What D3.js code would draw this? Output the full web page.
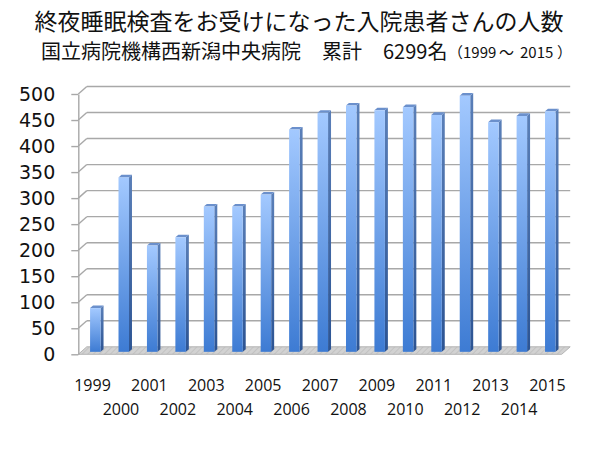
<!DOCTYPE html>
<html><head><meta charset="utf-8">
<script src="https://cdn.jsdelivr.net/npm/d3@7"></script>
<style>
html,body{margin:0;padding:0;background:#fff;}
svg{display:block;}
</style></head>
<body>
<svg id="chart" width="600" height="450"></svg>
<script>
// ---- data ----
const years = ["1999","2000","2001","2002","2003","2004","2005","2006","2007","2008","2009","2010","2011","2012","2013","2014","2015"];
const patients = [84,335,204,220,279,279,302,427,459,473,464,470,455,492,441,453,462];
const yTicks = [0,50,100,150,200,250,300,350,400,450,500];
const titleText = "終夜睡眠検査をお受けになった入院患者さんの人数";
const subtitleParts = ["国立病院機構西新潟中央病院", "累計", "6299名"];
const periodParts = ["（", "1999", "～", "2015", "）"];

// ---- layout ----
const svg = d3.select("#chart");
svg.append("rect").attr("width",600).attr("height",450).attr("fill","#fff");

const frontLeft = 78.3, frontRight = 561.7;
const y0 = 354.3, y500 = 94;
const DX = 8.5, DY = -7.5;   // full depth offset of the 3D box
const d1 = 0.33, d2 = 0.68;  // bar front / back depth fraction
const barW = 10.5;

const x = d3.scaleBand().domain(years).range([frontLeft, frontRight]).padding(0);
const y = d3.scaleLinear().domain([0,500]).range([y0, y500]);

const defs = svg.append("defs");
const gFront = defs.append("linearGradient").attr("id","gFront").attr("x1",0).attr("y1",0).attr("x2",0).attr("y2",1);
gFront.append("stop").attr("offset","0%").attr("stop-color","#a3c9ff");
gFront.append("stop").attr("offset","100%").attr("stop-color","#3d7bd3");
const gSide = defs.append("linearGradient").attr("id","gSide").attr("x1",0).attr("y1",0).attr("x2",0).attr("y2",1);
gSide.append("stop").attr("offset","0%").attr("stop-color","#5a7fb8");
gSide.append("stop").attr("offset","100%").attr("stop-color","#2c5493");
const hatch = defs.append("pattern").attr("id","hatch").attr("patternUnits","userSpaceOnUse")
  .attr("width",4).attr("height",4).attr("patternTransform","rotate(45)");
hatch.append("rect").attr("width",4).attr("height",4).attr("fill","#d2d2d2");
hatch.append("line").attr("x1",0).attr("y1",0).attr("x2",0).attr("y2",4).attr("stroke","#bdbdbd").attr("stroke-width",1.5);

// back wall gridlines
const grid = svg.append("g");
grid.selectAll("line.grid").data(yTicks.filter(t=>t>0)).join("line")
  .attr("x1", frontLeft+DX).attr("x2", frontRight+DX)
  .attr("y1", d=>y(d)+DY).attr("y2", d=>y(d)+DY)
  .attr("stroke","#a8a8a8").attr("stroke-width",1.4);
// left wall diagonals
grid.selectAll("line.diag").data(yTicks.filter(t=>t>0)).join("line")
  .attr("x1", frontLeft).attr("x2", frontLeft+DX)
  .attr("y1", d=>y(d)).attr("y2", d=>y(d)+DY)
  .attr("stroke","#a8a8a8").attr("stroke-width",1.4);

// floor
const floorPts = [[frontLeft,y(0)],[frontRight,y(0)],[frontRight+DX,y(0)+DY],[frontLeft+DX,y(0)+DY]];
svg.append("polygon").attr("points", floorPts.map(p=>p.join(",")).join(" "))
  .attr("fill","url(#hatch)").attr("stroke","#b4b4b4").attr("stroke-width",1);

// y axis
const yAxis = d3.axisLeft(y).tickValues(yTicks).tickSize(7).tickSizeOuter(0).tickPadding(16);
const ga = svg.append("g").attr("transform",`translate(${frontLeft},0)`).call(yAxis);
ga.select(".domain").attr("stroke","#a8a8a8").attr("stroke-width",1.4);
ga.selectAll(".tick line").attr("stroke","#a8a8a8").attr("stroke-width",1.4);
ga.selectAll(".tick text").attr("font-family","'DejaVu Sans', Verdana, sans-serif")
  .attr("font-size",19).attr("fill","#111");

// bars
const bars = svg.append("g");
const sideW = (d2-d1)*DX, sideH = (d2-d1)*DY;
years.forEach((yr,i)=>{
  const v = patients[i];
  const cx = x(yr) + x.bandwidth()/2 + d1*DX;
  const xl = cx - barW/2, xr = cx + barW/2;
  const yb = y(0) + d1*DY, yt = y(v) + d1*DY;
  const g = bars.append("g");
  g.append("polygon").attr("points",[[xr,yt],[xr+sideW,yt+sideH],[xr+sideW,yb+sideH],[xr,yb]].map(p=>p.join(",")).join(" "))
    .attr("fill","url(#gSide)");
  g.append("polygon").attr("points",[[xl,yt],[xr,yt],[xr+sideW,yt+sideH],[xl+sideW,yt+sideH]].map(p=>p.join(",")).join(" "))
    .attr("fill","#6b90cc");
  g.append("rect").attr("x",xl).attr("y",yt).attr("width",barW).attr("height",yb-yt)
    .attr("fill","url(#gFront)");
});

// x labels (staggered)
svg.append("g").selectAll("text").data(years).join("text")
  .attr("x", d=>x(d)+x.bandwidth()/2)
  .attr("y", (d,i)=> i%2===0 ? 391 : 415)
  .attr("text-anchor","middle")
  .attr("font-family","'Open Sans', 'Liberation Sans', sans-serif")
  .attr("font-size",16).attr("fill","#111")
  .text(d=>d);

// titles
const cjk = "'Noto Sans CJK JP', sans-serif";
svg.append("text").attr("x",299).attr("y",30).attr("text-anchor","middle")
  .attr("font-family",cjk).attr("font-size",23).attr("fill","#111")
  .text(titleText);
const subX = [41, 322, 383];
subtitleParts.forEach((t,i)=>{
  svg.append("text").attr("x",subX[i]).attr("y",59)
    .attr("font-family",cjk).attr("font-size",20).attr("fill","#111").text(t);
});
const perX = [448, 463, 499, 520, 557];
const per = svg.append("text").attr("y",58).attr("font-family",cjk).attr("font-size",15).attr("fill","#111");
periodParts.forEach((t,i)=>{ per.append("tspan").attr("x",perX[i]).text(t); });
</script>
</body></html>
